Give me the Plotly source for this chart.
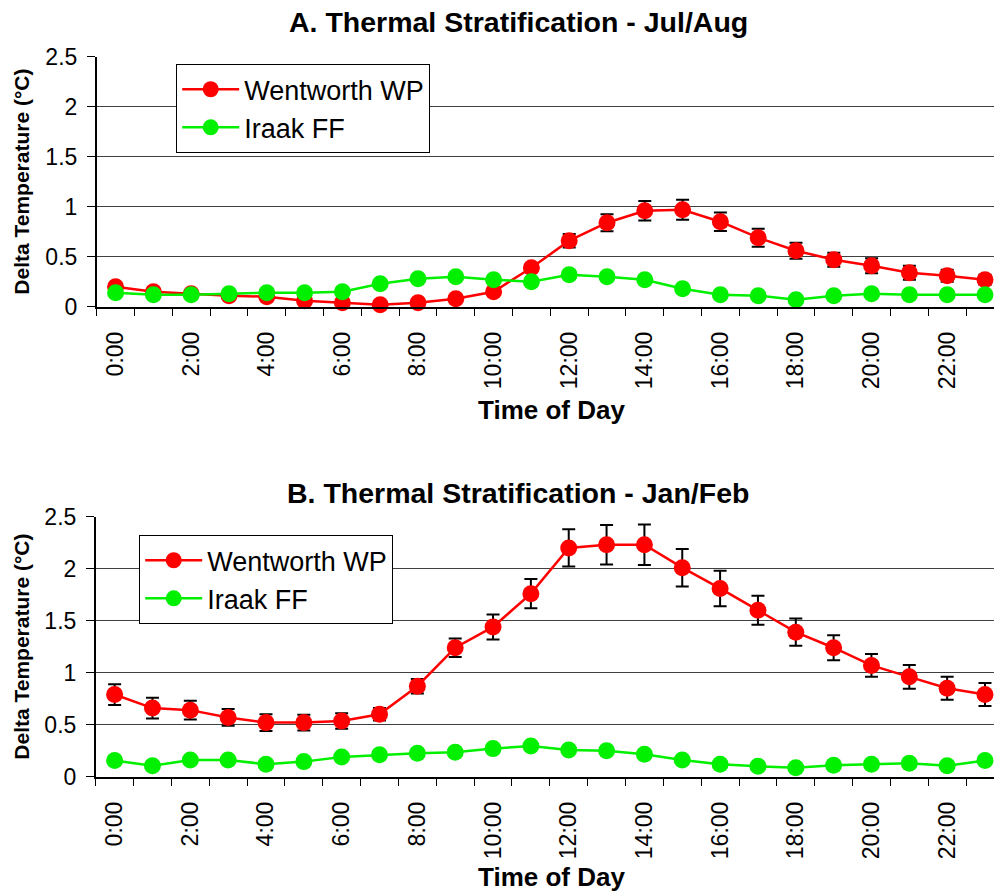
import plotly.graph_objects as go

W, H = 994, 891

hours = list(range(24))
hour_labels = [f"{h}:00" for h in hours]

# A. Jul/Aug
jul_wentworth = [0.20, 0.15, 0.13, 0.11, 0.10, 0.06, 0.04, 0.02, 0.04, 0.08, 0.15, 0.39,
                 0.66, 0.84, 0.96, 0.97, 0.85, 0.69, 0.56, 0.47, 0.41, 0.34, 0.31, 0.27]
jul_wentworth_err = [0.03, 0.03, 0.03, 0.03, 0.03, 0.03, 0.03, 0.03, 0.03, 0.03, 0.03, 0.04,
                     0.067, 0.085, 0.097, 0.10, 0.093, 0.09, 0.08, 0.07, 0.075, 0.07, 0.06, 0.05]
jul_iraak = [0.14, 0.12, 0.12, 0.13, 0.14, 0.14, 0.15, 0.23, 0.28, 0.30, 0.27, 0.25,
             0.32, 0.30, 0.27, 0.18, 0.12, 0.11, 0.07, 0.11, 0.13, 0.12, 0.12, 0.12]

# B. Jan/Feb
jan_wentworth = [0.79, 0.66, 0.64, 0.57, 0.52, 0.52, 0.535, 0.60, 0.87, 1.24, 1.44, 1.76,
                 2.20, 2.23, 2.23, 2.01, 1.81, 1.60, 1.39, 1.24, 1.07, 0.96, 0.85, 0.79]
jan_wentworth_err = [0.10, 0.10, 0.09, 0.08, 0.08, 0.075, 0.075, 0.06, 0.07, 0.09, 0.12, 0.14,
                     0.18, 0.19, 0.195, 0.18, 0.17, 0.14, 0.13, 0.12, 0.11, 0.115, 0.11, 0.11]
jan_iraak = [0.155, 0.105, 0.16, 0.16, 0.12, 0.145, 0.19, 0.21, 0.225, 0.235, 0.27, 0.295,
             0.257, 0.25, 0.215, 0.16, 0.12, 0.10, 0.087, 0.11, 0.12, 0.13, 0.105, 0.155]

y_ticks = [0, 0.5, 1, 1.5, 2, 2.5]
y_tick_labels = ["0", "0.5", "1", "1.5", "2", "2.5"]

titles = ["A. Thermal Stratification - Jul/Aug", "B. Thermal Stratification - Jan/Feb"]
series_names = ["Wentworth WP", "Iraak FF"]

RED = "#FF0000"
GREEN = "#00F000"
FONT = "Liberation Sans, Arial, sans-serif"

fig = go.Figure()

def add_panel(idx, w_vals, w_err, i_vals, legend_name):
    xa = "x" if idx == 0 else "x2"
    ya = "y" if idx == 0 else "y2"
    fig.add_trace(go.Scatter(
        x=hours, y=w_vals, name=series_names[0], mode="lines+markers",
        line=dict(color=RED, width=2.5),
        marker=dict(color=RED, size=17, line=dict(width=0)),
        error_y=dict(type="data", array=w_err, visible=True, color="black",
                     thickness=2, width=6.5),
        xaxis=xa, yaxis=ya, cliponaxis=False, legend=legend_name))
    fig.add_trace(go.Scatter(
        x=hours, y=i_vals, name=series_names[1], mode="lines+markers",
        line=dict(color=GREEN, width=2.5),
        marker=dict(color=GREEN, size=17, line=dict(width=0)),
        xaxis=xa, yaxis=ya, cliponaxis=False, legend=legend_name))

add_panel(0, jul_wentworth, jul_wentworth_err, jul_iraak, "legend")
add_panel(1, jan_wentworth, jan_wentworth_err, jan_iraak, "legend2")

def px_x(p):
    return p / W

def px_y(p):
    return 1 - p / H

# panel geometry (pixels)
panels = [
    dict(left=96.7, top=56.7, bottom=306.7),
    dict(left=95.7, top=516.7, bottom=776.7),
]
cat_w = 37.8
x_right = -0.5 + (W - 96.7) / cat_w

def xaxis_cfg(p):
    return dict(
        domain=[px_x(p["left"]), 1.0],
        range=[-0.5, x_right], automargin=False,
        tickmode="array", tickvals=hours[::2], ticktext=hour_labels[::2],
        tickangle=-90, ticks="", ticklabelstandoff=14,
        tickfont=dict(family=FONT, size=23, color="black"),
        showline=True, linecolor="black", linewidth=1.5,
        showgrid=False, zeroline=False,
        minor=dict(tickmode="array", tickvals=[h - 0.5 for h in range(25)],
                   ticks="outside", ticklen=8, tickcolor="black", tickwidth=1.2,
                   showgrid=False),
    )

def yaxis_cfg(p, anchor):
    return dict(
        domain=[px_y(p["bottom"]), px_y(p["top"])],
        range=[0, 2.5], anchor=anchor, automargin=False,
        tickmode="array", tickvals=y_ticks, ticktext=y_tick_labels,
        ticks="outside", ticklen=8, tickcolor="black", tickwidth=1.2,
        ticklabelstandoff=5,
        tickfont=dict(family=FONT, size=23, color="black"),
        showline=True, linecolor="black", linewidth=1.5,
        showgrid=True, gridcolor="#404040", gridwidth=1,
        zeroline=False,
    )

xa1 = xaxis_cfg(panels[0]); xa1["anchor"] = "y"
xa2 = xaxis_cfg(panels[1]); xa2["anchor"] = "y2"

def dom_x(p, px):
    return (px - p["left"]) / (W - p["left"])

def dom_y(p, py):
    return (p["bottom"] - py) / (p["bottom"] - p["top"])

annotations = []
title_y = [22, 493]
xtitle_y = [410, 877]
for i, p in enumerate(panels):
    xr = "x domain" if i == 0 else "x2 domain"
    yr = "y domain" if i == 0 else "y2 domain"
    annotations.append(dict(text=f"<b>{titles[i]}</b>", x=dom_x(p, 518), y=dom_y(p, title_y[i]),
                            xref=xr, yref=yr, xanchor="center", yanchor="middle",
                            showarrow=False, font=dict(family=FONT, size=28.5, color="black")))
    annotations.append(dict(text="<b>Time of Day</b>", x=dom_x(p, 551), y=dom_y(p, xtitle_y[i]),
                            xref=xr, yref=yr, xanchor="center", yanchor="middle",
                            showarrow=False, font=dict(family=FONT, size=26, color="black")))
    annotations.append(dict(text="<b>Delta Temperature (°C)</b>", x=dom_x(p, 22),
                            y=0.5,
                            xref=xr, yref=yr, xanchor="center", yanchor="middle",
                            textangle=-90, showarrow=False,
                            font=dict(family=FONT, size=21, color="black")))

legend_common = dict(
    bgcolor="white", bordercolor="black", borderwidth=1.2,
    font=dict(family=FONT, size=27, color="black"),
    xanchor="left", yanchor="top", itemwidth=57,
)

fig.update_layout(
    width=W, height=H,
    margin=dict(l=0, r=0, t=0, b=0, autoexpand=False),
    paper_bgcolor="white", plot_bgcolor="white",
    xaxis=xa1, yaxis=yaxis_cfg(panels[0], "x"),
    xaxis2=xa2, yaxis2=yaxis_cfg(panels[1], "x2"),
    annotations=annotations,
    legend=dict(x=px_x(176), y=px_y(64), **legend_common),
    legend2=dict(x=px_x(139), y=px_y(535), **legend_common),
    showlegend=True,
)

fig.write_html("out.html")
